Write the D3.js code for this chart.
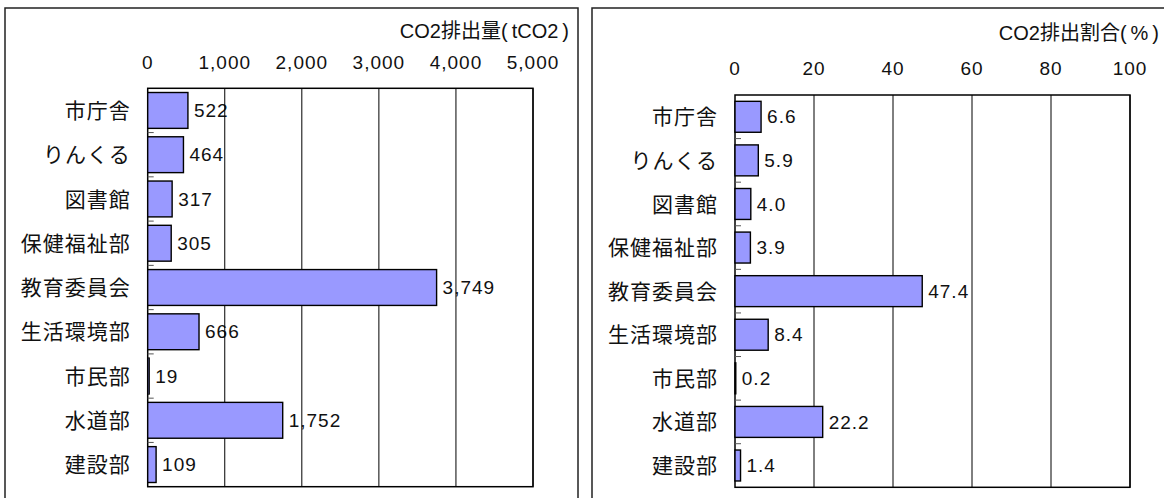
<!DOCTYPE html>
<html>
<head>
<meta charset="utf-8">
<script src="https://d3js.org/d3.v7.min.js"></script>
<style>
  body { margin: 0; background: #fff; }
  svg text { font-family: "Liberation Sans", Arial, "Noto Sans CJK JP", sans-serif; font-size: 19px; fill: #111; }
  .bar { fill: #9999ff; stroke: #000; stroke-width: 1.4; }
</style>
</head>
<body>
<script>
// categories (top to bottom)
var categories = ["市庁舎", "りんくる", "図書館", "保健福祉部", "教育委員会", "生活環境部", "市民部", "水道部", "建設部"];
// CO2 emissions (tCO2)
var emissions = [522, 464, 317, 305, 3749, 666, 19, 1752, 109];
// share of emissions (%)
var shares = [6.6, 5.9, 4.0, 3.9, 47.4, 8.4, 0.2, 22.2, 1.4];
var emissionTicks = [0, 1000, 2000, 3000, 4000, 5000];
var shareTicks = [0, 20, 40, 60, 80, 100];

var svg = d3.select("body").append("svg")
    .attr("width", 1164)
    .attr("height", 498);

function panel(opts) {
  // outer frame
  svg.append("rect")
      .attr("x", opts.box[0]).attr("y", opts.box[1])
      .attr("width", opts.box[2]).attr("height", opts.box[3])
      .attr("fill", "#fff").attr("stroke", "#222").attr("stroke-width", 1.5);

  var x = d3.scaleLinear().domain([0, opts.max]).range([opts.left, opts.right]);
  var y = d3.scaleBand().domain(categories).range([opts.top, opts.bottom])
      .paddingInner(opts.pad).paddingOuter(opts.pad / 2);
  var g = svg.append("g");

  // title
  g.append("text")
      .attr("x", opts.titleX).attr("y", opts.titleY)
      .attr("text-anchor", "end").attr("dy", "0.35em")
      .style("font-size", "20px")
      .text(opts.title);

  // tick labels on top
  g.selectAll(".tl").data(opts.ticks).enter().append("text")
      .attr("x", function(d) { return x(d); })
      .attr("y", opts.tickY)
      .attr("dy", "0.35em")
      .attr("text-anchor", "middle")
      .style("letter-spacing", "1px")
      .text(function(d) { return opts.fmt(d); });

  // category labels
  g.selectAll(".cl").data(categories).enter().append("text")
      .attr("x", opts.left - 17)
      .attr("y", function(d) { return y(d) + y.bandwidth() / 2; })
      .attr("dy", "0.36em")
      .attr("text-anchor", "end")
      .style("font-size", "21px")
      .style("letter-spacing", "1px")
      .text(function(d) { return d; });

  // value labels (drawn under gridlines like the original)
  g.selectAll(".vl").data(opts.values).enter().append("text")
      .attr("x", function(d) { return x(d) + 6; })
      .attr("y", function(d, i) { return y(categories[i]) + y.bandwidth() / 2; })
      .attr("dy", "0.35em")
      .style("letter-spacing", "1px")
      .text(function(d) { return opts.fmt(d); });

  // gridlines
  g.selectAll(".grid").data(opts.ticks.slice(1)).enter().append("line")
      .attr("x1", function(d) { return x(d); }).attr("x2", function(d) { return x(d); })
      .attr("y1", opts.top).attr("y2", opts.bottom)
      .attr("stroke", "#000").attr("stroke-width", 1);

  // plot frame
  g.append("rect")
      .attr("x", opts.left).attr("y", opts.top)
      .attr("width", opts.right - opts.left).attr("height", opts.bottom - opts.top)
      .attr("fill", "none").attr("stroke", "#000").attr("stroke-width", 1.5);

  // small category ticks
  var step = y.step();
  var bounds = d3.range(1, categories.length).map(function(i) { return opts.top + i * step; });
  g.selectAll(".ct").data(bounds).enter().append("line")
      .attr("x1", opts.left).attr("x2", opts.left + 6)
      .attr("y1", function(d) { return d; }).attr("y2", function(d) { return d; })
      .attr("stroke", "#555").attr("stroke-width", 1);

  // bars
  g.selectAll(".bar").data(opts.values).enter().append("rect")
      .attr("class", "bar")
      .attr("x", x(0))
      .attr("y", function(d, i) { return y(categories[i]); })
      .attr("width", function(d) { return x(d) - x(0); })
      .attr("height", y.bandwidth());
}

panel({
  box: [5, 8, 573, 500],
  left: 147.7, right: 533, top: 88.3, bottom: 486.7,
  max: 5000, ticks: emissionTicks, pad: 0.19,
  tickY: 62, titleX: 569, titleY: 31,
  title: "CO2排出量(\u2009tCO2\u2009)",
  values: emissions,
  fmt: d3.format(",")
});

panel({
  box: [592, 8, 600, 500],
  left: 735, right: 1130, top: 95, bottom: 487.3,
  max: 100, ticks: shareTicks, pad: 0.29,
  tickY: 68, titleX: 1159, titleY: 33,
  title: "CO2排出割合(\u2009%\u2009)",
  values: shares,
  fmt: function(d) { return shareTicks.indexOf(d) >= 0 ? String(d) : d.toFixed(1); }
});
</script>
</body>
</html>
